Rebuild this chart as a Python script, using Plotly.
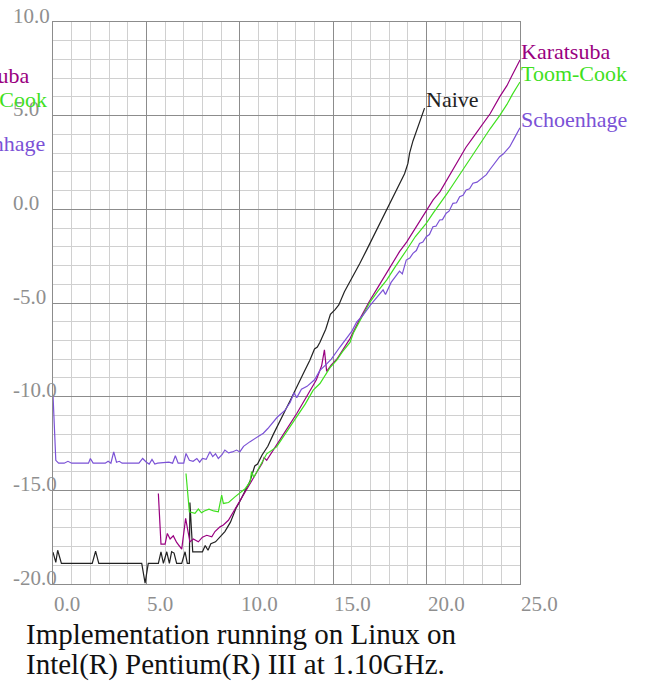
import plotly.graph_objects as go

# ---------------- data ----------------
naive_x = [0.0, 0.15, 0.25, 0.45, 2.1, 2.28, 2.45, 4.75, 4.93, 5.1,
           5.64, 5.78, 5.91, 6.09, 6.23, 6.35, 6.48, 6.62, 6.89, 7.07,
           7.19, 7.3, 7.33, 7.48, 8.0, 8.15, 8.3, 8.45, 8.7, 8.95,
           9.2, 9.5, 9.8, 10.0, 10.3, 10.55, 10.8, 10.95, 11.2, 11.5,
           11.8, 12.15, 12.45, 12.7, 13.05, 13.4, 13.75, 14.0, 14.15, 14.29,
           14.6, 14.85, 15.1, 15.3, 15.6, 16.0, 16.43, 16.8, 17.1, 17.5,
           17.8, 18.1, 18.3, 18.55, 18.82, 19.0, 19.09, 19.27, 19.5, 19.71,
           19.89]
naive_y = [-18.3, -18.85, -18.2, -18.9, -18.9, -18.25, -18.9, -18.9, -19.95, -18.9,
           -18.9, -18.28, -18.9, -18.28, -18.9, -18.28, -18.35, -18.9, -18.9, -18.28,
           -18.9, -18.9, -15.65, -18.28, -18.28, -17.95, -18.2, -17.85, -17.75, -17.45,
           -17.2, -16.7, -15.95, -15.6, -15.0, -14.5, -13.7, -13.6, -13.1, -12.65,
           -12.0, -11.25, -10.7, -10.2, -9.45, -8.76, -8.05, -7.45, -7.35, -7.1,
           -6.4, -5.6, -5.35, -5.1, -4.4, -3.7, -2.88, -2.15, -1.55, -0.75,
           -0.15, 0.4, 0.8, 1.3, 1.9, 2.45, 3.0, 3.65, 4.3, 4.95,
           5.4]

karatsuba_x = [5.64, 5.78, 6.0, 6.12, 6.27, 6.44, 6.62, 6.89, 7.1, 7.33,
               7.51, 7.78, 8.0, 8.23, 8.5, 8.67, 8.94, 9.12, 9.39, 9.65,
               10.0, 10.3, 10.55, 10.9, 11.2, 11.3, 11.44, 11.8, 12.15, 12.6,
               13.05, 13.4, 13.76, 14.1, 14.38, 14.53, 14.65, 14.9, 15.19, 15.5,
               15.9, 16.4, 16.97, 17.4, 17.86, 18.3, 18.55, 18.93, 19.3, 19.65,
               19.98, 20.35, 20.72, 21.1, 21.4, 21.77, 22.1, 22.5, 23.02, 23.4,
               23.91, 24.3, 24.6, 25.0]
karatsuba_y = [-15.17, -17.87, -17.87, -17.3, -17.6, -17.43, -17.78, -18.14, -16.5, -17.75,
               -17.6, -17.75, -17.5, -17.4, -17.48, -17.2, -16.95, -16.85, -16.6, -16.15,
               -15.55, -15.05, -14.65, -14.05, -13.55, -13.25, -13.4, -12.85, -12.35, -11.6,
               -10.9, -10.3, -9.75, -9.1, -8.35, -7.5, -8.65, -8.3, -8.0, -7.5,
               -6.9, -5.9, -4.85, -4.15, -3.42, -2.7, -2.26, -1.75, -1.15, -0.6,
               -0.05, 0.5, 0.95, 1.6, 2.1, 2.8, 3.3, 3.85, 4.6, 5.1,
               6.0, 6.6, 7.2, 7.97]

toom_x = [7.12, 7.3, 7.6, 7.78, 7.95, 8.1, 8.35, 8.6, 8.85, 9.03,
          9.12, 9.4, 9.74, 10.0, 10.3, 10.55, 10.63, 10.75, 11.0, 11.44,
          11.97, 12.33, 12.7, 13.05, 13.5, 13.93, 14.29, 14.83, 15.19, 15.5,
          15.9, 16.08, 16.5, 16.97, 17.4, 17.86, 18.3, 18.55, 18.93, 19.4,
          19.98, 20.35, 20.72, 21.1, 21.4, 21.77, 22.1, 22.5, 23.02, 23.4,
          23.91, 24.3, 24.6, 25.0]
toom_y = [-14.1, -16.15, -16.23, -16.0, -16.2, -16.1, -16.0, -16.1, -16.15, -15.25,
          -15.7, -15.65, -15.35, -15.15, -14.9, -14.55, -14.0, -14.3, -13.85, -13.05,
          -12.68, -12.14, -11.6, -11.07, -10.4, -9.65, -9.3, -8.45, -8.05, -7.6,
          -7.1, -6.6, -5.8, -4.95, -4.35, -3.78, -3.1, -2.75, -2.17, -1.45,
          -0.75, -0.2, 0.3, 0.85, 1.3, 1.85, 2.4, 3.0, 3.75, 4.3,
          5.0, 5.6, 6.15, 6.8]

schoen_x = [0.0, 0.15, 0.3, 0.6, 0.8, 1.0, 1.9, 2.0, 2.15, 2.8,
            2.95, 3.1, 3.25, 3.4, 3.55, 3.7, 4.6, 4.8, 5.0, 5.15,
            5.3, 5.45, 5.6, 6.2, 6.4, 6.55, 6.7, 7.0, 7.12, 7.3,
            7.5, 7.7, 7.85, 8.0, 8.2, 8.4, 8.55, 8.7, 8.85, 9.05,
            9.2, 9.4, 9.6, 9.83, 10.0, 10.2, 10.55, 10.9, 11.26, 11.5,
            11.7, 12.0, 12.4, 12.7, 12.9, 13.05, 13.3, 13.6, 14.0, 14.29,
            14.6, 14.9, 15.36, 15.7, 16.0, 16.26, 16.6, 17.0, 17.4, 17.67,
            17.8, 18.1, 18.4, 18.55, 18.7, 18.91, 19.1, 19.27, 19.45, 19.62,
            19.8, 19.98, 20.15, 20.34, 20.5, 20.7, 20.85, 21.05, 21.2, 21.41,
            21.6, 21.77, 21.95, 22.12, 22.3, 22.48, 22.7, 23.02, 23.2, 23.37,
            23.6, 23.91, 24.1, 24.45, 24.7, 25.0]
schoen_y = [-9.9, -13.4, -13.55, -13.55, -13.45, -13.55, -13.55, -13.3, -13.55, -13.55,
            -13.45, -13.55, -12.95, -13.5, -13.45, -13.55, -13.55, -13.3, -13.5, -13.6,
            -13.35, -13.6, -13.55, -13.5, -13.55, -13.15, -13.55, -13.55, -13.03, -13.4,
            -13.45, -13.3, -13.5, -13.3, -13.35, -12.94, -13.2, -13.05, -13.3, -13.1,
            -12.85, -13.0, -12.95, -12.85, -12.95, -12.65, -12.4, -12.2, -11.95, -11.7,
            -11.45, -11.1, -10.75, -10.3, -9.8, -10.05, -9.6, -9.45, -9.1, -8.6,
            -8.3, -8.0, -7.35, -6.9, -6.5, -6.0, -5.65, -5.1, -4.6, -4.3,
            -4.55, -3.9, -3.5, -3.3, -3.45, -2.71, -2.6, -2.35, -2.2, -1.82,
            -1.75, -1.46, -1.35, -0.93, -0.9, -0.57, -0.55, -0.21, -0.1, 0.32,
            0.35, 0.67, 0.75, 1.03, 1.1, 1.39, 1.45, 1.74, 1.85, 2.1,
            2.4, 2.81, 2.95, 3.34, 3.8, 4.35]

series_names = ["Naive", "Karatsuba", "Toom-Cook", "Schoenhage"]
series_colors = ["#222222", "#990080", "#3fe01e", "#7b52d6"]

x_ticks = [0, 5, 10, 15, 20, 25]
x_tick_labels = ["0.0", "5.0", "10.0", "15.0", "20.0", "25.0"]
y_ticks = [10, 5, 0, -5, -10, -15, -20]
y_tick_labels = ["10.0", "5.0", "0.0", "-5.0", "-10.0", "-15.0", "-20.0"]

caption_lines = ["Implementation running on Linux on",
                 "Intel(R) Pentium(R) III at 1.10GHz."]

# ---------------- figure ----------------
series = [(naive_x, naive_y), (karatsuba_x, karatsuba_y), (toom_x, toom_y), (schoen_x, schoen_y)]
for xs, ys in series:
    assert len(xs) == len(ys), (len(xs), len(ys))

W, H = 645, 684
ML, MR, MT, MB = 53, 125, 22, 100
PW, PH = W - ML - MR, H - MT - MB
FONT = "Liberation Serif"
MAJOR = "#8c8c8c"
MINOR = "#d0d0d0"
TICK_GREY = "#8f8f8f"

fig = go.Figure()
for (xs, ys), name, col in zip(series, series_names, series_colors):
    fig.add_trace(go.Scatter(x=xs, y=ys, mode="lines", name=name,
                             line=dict(color=col, width=1.2),
                             showlegend=False, hoverinfo="skip"))


def px_to_paper_x(px):
    return (px - ML) / PW


def px_to_paper_y(py):
    return (H - MB - py) / PH


def base_shift(size):
    return -0.216 * size


ann = []
# x tick labels (left-aligned at the tick, baseline at y=612px)
for v, t in zip(x_ticks, x_tick_labels):
    ann.append(dict(x=v, xref="x", y=px_to_paper_y(612), yref="paper",
                    text=t, xanchor="left", yanchor="bottom", yshift=base_shift(21),
                    showarrow=False, borderpad=0,
                    font=dict(family=FONT, size=21, color=TICK_GREY)))
# y tick labels (left-aligned at x=12px, baseline on the grid line)
for v, t in zip(y_ticks, y_tick_labels):
    ann.append(dict(x=px_to_paper_x(12), xref="paper", y=v, yref="y",
                    text=t, xanchor="left", yanchor="bottom", yshift=base_shift(21) - 2,
                    showarrow=False, borderpad=0,
                    font=dict(family=FONT, size=21, color=TICK_GREY)))

# series labels at the end of each curve
for (xs, ys), name, col in zip(series, series_names, series_colors):
    ann.append(dict(x=xs[-1], xref="x", y=ys[-1], yref="y", text=name,
                    xanchor="left", yanchor="bottom", yshift=base_shift(22),
                    showarrow=False, borderpad=0,
                    font=dict(family=FONT, size=22, color=col)))

# duplicate labels partly cut by the left page edge
left_labels = [("Karatsuba", 30, 84, series_colors[1]),
               ("Toom-Cook", 48, 108, series_colors[2]),
               ("Schoenhage", 46, 152, series_colors[3])]
for name, rx, by, col in left_labels:
    ann.append(dict(x=px_to_paper_x(rx), xref="paper", y=px_to_paper_y(by), yref="paper",
                    text=name, xanchor="right", yanchor="bottom", yshift=base_shift(22),
                    showarrow=False, borderpad=0,
                    font=dict(family=FONT, size=22, color=col)))

# caption
for line, by in zip(caption_lines, [645, 676]):
    ann.append(dict(x=px_to_paper_x(25), xref="paper", y=px_to_paper_y(by), yref="paper",
                    text=line, xanchor="left", yanchor="bottom", yshift=base_shift(29),
                    showarrow=False, borderpad=0,
                    font=dict(family=FONT, size=29, color="#111111")))

axis_common = dict(showgrid=True, gridcolor=MAJOR, gridwidth=1.3,
                   zeroline=False, showticklabels=False, ticks="",
                   showline=True, linecolor=MAJOR, linewidth=1.3, mirror=True,
                   minor=dict(dtick=1, showgrid=True, gridcolor=MINOR, gridwidth=1.3))

fig.update_layout(
    width=W, height=H,
    margin=dict(l=ML, r=MR, t=MT, b=MB, pad=0),
    paper_bgcolor="white", plot_bgcolor="white",
    xaxis=dict(range=[0, 25], tick0=0, dtick=5, **axis_common),
    yaxis=dict(range=[-20, 10], tick0=0, dtick=5, **axis_common),
    annotations=ann,
    font=dict(family=FONT),
    hovermode=False,
)

fig.write_html("out.html",
               config={"displayModeBar": False},
               post_script="document.body.style.margin='0';document.body.style.padding='0';")
